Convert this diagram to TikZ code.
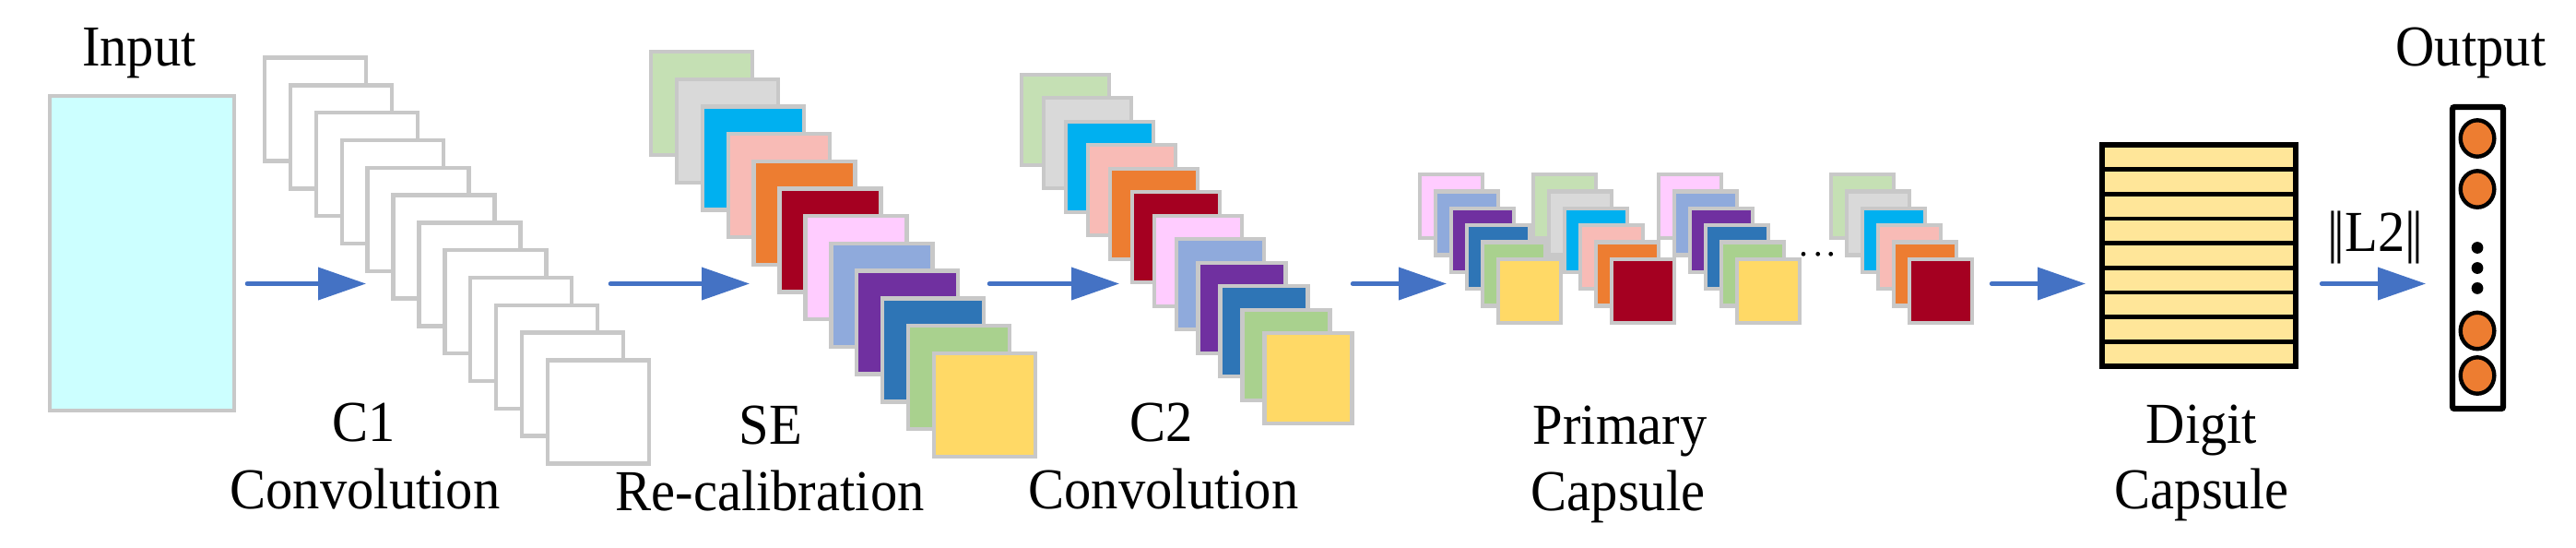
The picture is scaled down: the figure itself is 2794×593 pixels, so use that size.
\documentclass[tikz,border=0pt]{standalone}
\usepackage{fontspec}
\setmainfont[FakeStretch=0.933]{Liberation Serif}
\usetikzlibrary{arrows.meta}
\definecolor{fmgray}{HTML}{C8C8C8}
\definecolor{inputc}{HTML}{CCFFFF}
\definecolor{sgreen}{HTML}{C5E0B4}
\definecolor{sgray}{HTML}{D9D9D9}
\definecolor{scyan}{HTML}{00B0F0}
\definecolor{spink}{HTML}{F8BBB6}
\definecolor{sorange}{HTML}{ED7D31}
\definecolor{sred}{HTML}{A50021}
\definecolor{slpink}{HTML}{FFCCFF}
\definecolor{slblue}{HTML}{8FAADC}
\definecolor{spurple}{HTML}{7030A0}
\definecolor{sblue}{HTML}{2E75B6}
\definecolor{sgreentwo}{HTML}{A9D18E}
\definecolor{syellow}{HTML}{FFD966}
\definecolor{digitc}{HTML}{FFE699}
\definecolor{arrowc}{HTML}{4472C4}
\begin{document}
\begin{tikzpicture}[x=0.25pt,y=-0.25pt,
  fm/.style={draw=fmgray, line width=1.1pt},
  arr/.style={draw=arrowc, line width=1.125pt, line cap=round, -{Triangle[length=13pt,width=8.7pt]}},
  lbl/.style={font=\fontsize{15.7pt}{18pt}\selectfont, inner sep=0pt, anchor=base}]
\useasboundingbox (0,0) rectangle (2794,593);

% Input
\node[fm, fill=inputc, minimum width=50pt, minimum height=85.25pt, inner sep=0pt] (input) at (154,274.5) {};
\node[lbl] (tinput) at (151,71) {Input};

% C1 stack
\foreach \i in {0,...,11}
  \filldraw[fm, fill=white] ({287+\i*27.9},{62.5+\i*29.8}) rectangle ++(110,112);
\node[lbl] (tc1a) at (395,478) {C1};
\node[lbl] (tc1b) at (396,551) {Convolution};

% SE stack
\foreach \c [count=\i from 0] in {sgreen,sgray,scyan,spink,sorange,sred,slpink,slblue,spurple,sblue,sgreentwo,syellow}
  \filldraw[fm, fill=\c] ({706+\i*27.9},{56+\i*29.7}) rectangle ++(110,112);
\node[lbl] (tsea) at (836,481) {SE};
\node[lbl] (tseb) at (835,553) {Re-calibration};

% C2 stack
\foreach \c [count=\i from 0] in {sgreen,sgray,scyan,spink,sorange,sred,slpink,slblue,spurple,sblue,sgreentwo,syellow}
  \filldraw[fm, fill=\c] ({1108+\i*23.96},{80.7+\i*25.5}) rectangle ++(95,98);
\node[lbl] (tc2a) at (1260,478) {C2};
\node[lbl] (tc2b) at (1262,551) {Convolution};

% Primary capsules
\foreach \gx/\gy in {1540/189,1799/189}
  \foreach \c [count=\i from 0] in {slpink,slblue,spurple,sblue,sgreentwo,syellow}
    \filldraw[fm, fill=\c] ({\gx+\i*17},{\gy+\i*18.4}) rectangle ++(68,69);
\foreach \gx/\gy in {1663/189,1986/189}
  \foreach \c [count=\i from 0] in {sgreen,sgray,scyan,spink,sorange,sred}
    \filldraw[fm, fill=\c] ({\gx+\i*17},{\gy+\i*18.4}) rectangle ++(68,69);
\foreach \dx in {1956,1971.7,1985.7}
  \fill (\dx,275.3) circle (2.4);
\node[lbl] (tpa) at (1757,481) {Primary};
\node[lbl] (tpb) at (1755,553) {Capsule};

% Digit capsule
\filldraw[line width=1.5pt, fill=digitc] (2280,157) rectangle (2490,397);
\foreach \k in {1,...,8}
  \draw[line width=1.1pt] (2280,{157+\k*26.667}) -- (2490,{157+\k*26.667});
\node[lbl] (tda) at (2388,480) {Digit};
\node[lbl] (tdb) at (2388,551) {Capsule};

% Output
\draw[line width=1.6pt, rounded corners=0.6pt, fill=white] (2660,116) rectangle (2715,443);
\foreach \cy in {150,205,358.5,407}
  \filldraw[line width=1.1pt, fill=sorange] (2687,\cy) ellipse [x radius=18.3, y radius=19.7];
\foreach \cy in {268.5,290.5,312.4}
  \fill (2687,\cy) circle (6.4);
\node[lbl] (tout) at (2680,71) {Output};
\node[lbl] (tl2) at (2576,272) {|\kern-1pt|L2|\kern-1pt|};

% Arrows
\coordinate (a1s) at (268,307.5);  \coordinate (a1e) at (397,307.5);
\coordinate (a2s) at (662,307.5);  \coordinate (a2e) at (813,307.5);
\coordinate (a3s) at (1073,307.5); \coordinate (a3e) at (1214,307.5);
\coordinate (a4s) at (1467,307.5); \coordinate (a4e) at (1569,307.5);
\coordinate (a5s) at (2160,307.5); \coordinate (a5e) at (2262,307.5);
\coordinate (a6s) at (2518,307.5); \coordinate (a6e) at (2631,307.5);
\draw[arr] (a1s) -- (a1e);
\draw[arr] (a2s) -- (a2e);
\draw[arr] (a3s) -- (a3e);
\draw[arr] (a4s) -- (a4e);
\draw[arr] (a5s) -- (a5e);
\draw[arr] (a6s) -- (a6e);
\end{tikzpicture}
\end{document}
